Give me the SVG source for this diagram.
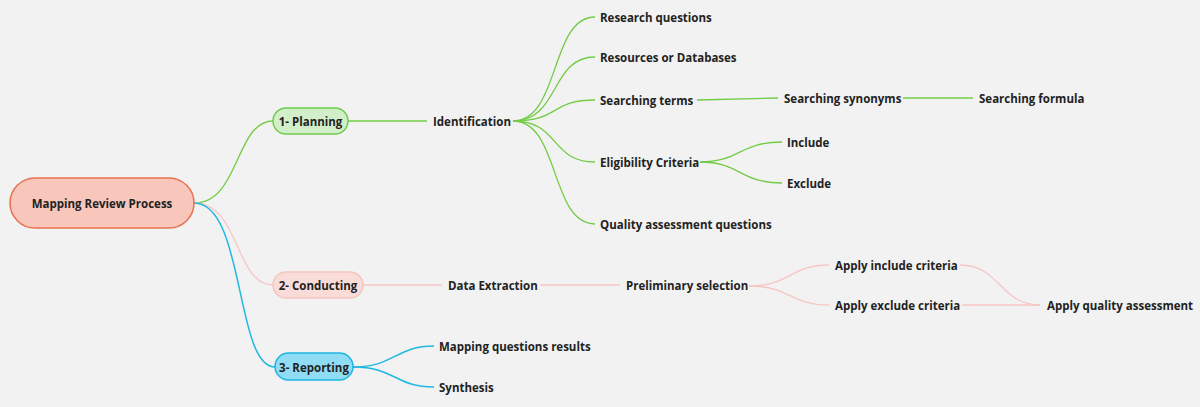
<svg xmlns="http://www.w3.org/2000/svg" width="1200" height="407" viewBox="0 0 1200 407">
<style>
text{font-family:"Open Sans","Liberation Sans",sans-serif;font-weight:bold;font-size:11.5px;fill:#222;dominant-baseline:central}
.c{text-anchor:middle}
.g{stroke:#72cc45;fill:none;stroke-width:1.3}
.p{stroke:#f7c6c4;fill:none;stroke-width:1.3}
.b{stroke:#22b8e0;fill:none;stroke-width:1.5}
</style>
<rect width="1200" height="407" fill="#f2f2f2"/>
<g id="connectors">
<path class="g" d="M194,203 C240,203 235,121 273,121"/>
<path class="p" d="M194,203 C240,203 235,285 273,285"/>
<path class="b" d="M194,203 C245,203 235,367 275,367"/>
<path class="g" d="M348,121 L427,121"/>
<path class="g" d="M513,121 C560,121 550,17 595,17"/>
<path class="g" d="M513,121 C560,121 550,57 595,57"/>
<path class="g" d="M513,121 C560,121 550,100 595,100"/>
<path class="g" d="M513,121 C560,121 550,162 595,162"/>
<path class="g" d="M513,121 C560,121 550,224 595,224"/>
<path class="g" d="M697,100 L778,98"/>
<path class="g" d="M903,98 L973,98"/>
<path class="g" d="M700,162 C740,162 740,142 782,142"/>
<path class="g" d="M700,162 C740,162 740,183 782,183"/>
<path class="p" d="M363,285 L442,285"/>
<path class="p" d="M540,285 L620,285"/>
<path class="p" d="M749,286 C790,286 790,265 829,265"/>
<path class="p" d="M749,286 C790,286 790,305 829,305"/>
<path class="p" d="M960,265 C1000,265 1000,305 1040,305"/>
<path class="p" d="M962,305 L1040,305"/>
<path class="b" d="M353,367 C395,367 395,346 434,346"/>
<path class="b" d="M353,367 C395,367 395,387 434,387"/>
</g>
<g id="root"><rect x="10" y="178" width="184" height="50" rx="25" fill="#f8c6bb" stroke="#e8714f" stroke-width="1.5"/><text class="c" x="102" y="203">Mapping Review Process</text></g>
<g id="planning"><rect x="273" y="108" width="75" height="26" rx="13" fill="#d3efca" stroke="#6fcc4f" stroke-width="1.5"/><text class="c" x="310.5" y="121">1- Planning</text></g>
<g id="conducting"><rect x="273" y="272" width="90" height="26" rx="13" fill="#f9dcd8" stroke="#f5c6c2" stroke-width="1.5"/><text class="c" x="318" y="285">2- Conducting</text></g>
<g id="reporting"><rect x="275" y="353" width="78" height="27" rx="13.5" fill="#8fdcf5" stroke="#1eb6e0" stroke-width="1.5"/><text class="c" x="314" y="367">3- Reporting</text></g>
<g id="identification"><text x="433" y="121">Identification</text></g>
<g id="rq"><text x="600" y="17">Research questions</text></g>
<g id="rd"><text x="600" y="57">Resources or Databases</text></g>
<g id="st"><text x="600" y="100">Searching terms</text></g>
<g id="ss"><text x="784" y="98">Searching synonyms</text></g>
<g id="sf"><text x="979" y="98">Searching formula</text></g>
<g id="ec"><text x="600" y="162">Eligibility Criteria</text></g>
<g id="inc"><text x="787" y="142">Include</text></g>
<g id="exc"><text x="787" y="183">Exclude</text></g>
<g id="qa"><text x="600" y="224">Quality assessment questions</text></g>
<g id="de"><text x="448" y="285">Data Extraction</text></g>
<g id="ps"><text x="626" y="285">Preliminary selection</text></g>
<g id="aic"><text x="835" y="265">Apply include criteria</text></g>
<g id="aec"><text x="835" y="305">Apply exclude criteria</text></g>
<g id="aqa"><text x="1047" y="305">Apply quality assessment</text></g>
<g id="mqr"><text x="439" y="346">Mapping questions results</text></g>
<g id="syn"><text x="439" y="387">Synthesis</text></g>
</svg>
